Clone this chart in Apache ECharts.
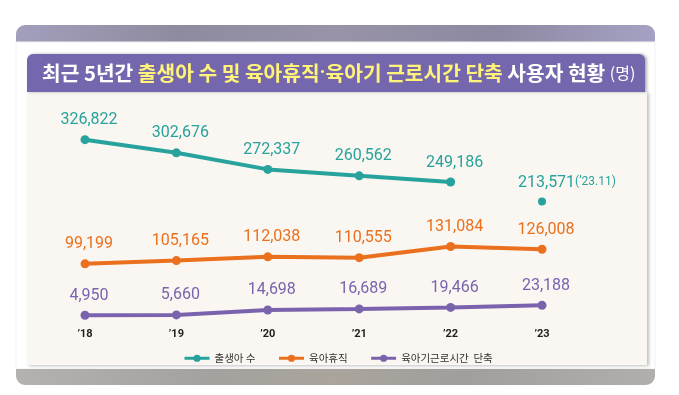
<!DOCTYPE html>
<html>
<head>
<meta charset="utf-8">
<script src="https://cdn.jsdelivr.net/npm/echarts@6/dist/echarts.min.js"></script>
<style>
html,body{margin:0;padding:0;background:#fff;}
#c{width:679px;height:395px;}
</style>
</head>
<body>
<div id="c"></div>
<script>
var categories = ["’18", "’19", "’20", "’21", "’22", "’23"];
var birthsLine = [326822, 302676, 272337, 260562, 249186, null];
var birthsLatest = [null, null, null, null, null, 213571];
var birthsLatestNote = "(’23.11)";
var parentalLeave = [99199, 105165, 112038, 110555, 131084, 126008];
var reducedHours = [4950, 5660, 14698, 16689, 19466, 23188];
var seriesNames = ["출생아 수", "육아휴직", "육아기근로시간  단축"];

var TEAL = "#27a29c", ORANGE = "#ea701d", PURPLE = "#7a63ad";
var fmt = function (v) { return v.toLocaleString("en-US"); };
var numFont = "Roboto, 'Noto Sans', sans-serif";
var cjk = "'Noto Sans CJK KR', sans-serif";

var chart = echarts.init(document.getElementById("c"), null, {renderer: "canvas"});

function lineSeries(name, data, color) {
  return {
    name: name, type: "line", data: data,
    symbol: "circle", symbolSize: 9, connectNulls: false,
    lineStyle: {color: color, width: 4},
    itemStyle: {color: color},
    label: {
      show: true, position: "top", distance: 7, offset: [4, 0],
      color: color, fontSize: 16, fontFamily: numFont,
      formatter: function (p) { return fmt(p.value); }
    },
    z: 5
  };
}

var option = {
  animation: false,
  backgroundColor: "#ffffff",
  graphic: {
    elements: [
      {type: "rect", z: -20, shape: {x: 16, y: 25, width: 639, height: 17, r: [9, 9, 0, 0]},
        style: {fill: new echarts.graphic.LinearGradient(0, 0, 1, 0, [
          {offset: 0, color: "#a29fbd"}, {offset: 0.25, color: "#8f8b9f"},
          {offset: 0.5, color: "#9893a6"}, {offset: 0.75, color: "#8d89a2"},
          {offset: 1, color: "#a5a1c3"}])}},
      {type: "rect", z: -20, shape: {x: 16, y: 42, width: 639, height: 327},
        style: {fill: "#ffffff", stroke: "#f1f1f1", lineWidth: 1}},
      {type: "rect", z: -19, shape: {x: 27, y: 92, width: 620, height: 273},
        style: {fill: "#faf7f2", shadowColor: "rgba(0,0,0,0.25)", shadowBlur: 3, shadowOffsetX: 2, shadowOffsetY: 1}},
      {type: "rect", z: -18, shape: {x: 27, y: 54, width: 618, height: 38, r: [6, 6, 0, 0]},
        style: {fill: "#7467ad", shadowColor: "rgba(0,0,0,0.3)", shadowBlur: 3, shadowOffsetX: 2}},
      {type: "rect", z: -20, shape: {x: 16, y: 369, width: 639, height: 16, r: [0, 0, 9, 9]},
        style: {fill: new echarts.graphic.LinearGradient(0, 0, 1, 0, [
          {offset: 0, color: "#b3b2ae"}, {offset: 0.3, color: "#a3a29e"},
          {offset: 0.5, color: "#aaa49c"}, {offset: 0.7, color: "#a09f9c"},
          {offset: 1, color: "#b0afab"}])}},
      {type: "text", z: 10, style: {
        x: 42, y: 73, verticalAlign: "middle",
        text: "{w|최근 5년간 }{y|출생아 수 및 육아휴직}{d|·}{y|육아기 근로시간 단축}{w| 사용자 현황 }{s|(명)}",
        rich: {
          w: {fill: "#ffffff", fontSize: 20.3, fontWeight: "bold", fontFamily: cjk},
          y: {fill: "#fff37a", fontSize: 20.3, fontWeight: "bold", fontFamily: cjk},
          d: {fill: "#fff37a", fontSize: 20, fontWeight: "bold", fontFamily: numFont},
          s: {fill: "#ffffff", fontSize: 16, fontFamily: cjk}
        }
      }}
    ]
  },
  legend: {
    data: seriesNames,
    left: 178, top: 348,
    itemWidth: 25, itemHeight: 9, itemGap: 22,
    lineStyle: {width: 3},
    textStyle: {color: "#333", fontSize: 10.5, fontFamily: cjk}
  },
  grid: {left: 85, right: 137, top: 127, bottom: 77},
  xAxis: {
    type: "category", data: categories, boundaryGap: false,
    axisLine: {show: false}, axisTick: {show: false}, splitLine: {show: false},
    axisLabel: {color: "#222", fontSize: 11, fontWeight: "bold", fontFamily: numFont, margin: 11}
  },
  yAxis: {type: "value", min: 0, max: 350000, show: false, splitLine: {show: false}},
  series: [
    lineSeries(seriesNames[0], birthsLine, TEAL),
    {
      name: seriesNames[0], type: "line", data: birthsLatest,
      symbol: "circle", symbolSize: 8, showSymbol: true,
      lineStyle: {width: 0}, itemStyle: {color: TEAL},
      label: {
        show: true, position: "top", distance: 6, align: "left", offset: [-24, 0],
        formatter: function (p) { return "{a|" + fmt(p.value) + "}{b|" + birthsLatestNote + "}"; },
        rich: {
          a: {color: TEAL, fontSize: 16, fontFamily: numFont},
          b: {color: TEAL, fontSize: 12, fontFamily: numFont, padding: [0, 0, 3, 0]}
        }
      },
      z: 5
    },
    lineSeries(seriesNames[1], parentalLeave, ORANGE),
    lineSeries(seriesNames[2], reducedHours, PURPLE)
  ]
};
chart.setOption(option);
</script>
</body>
</html>
